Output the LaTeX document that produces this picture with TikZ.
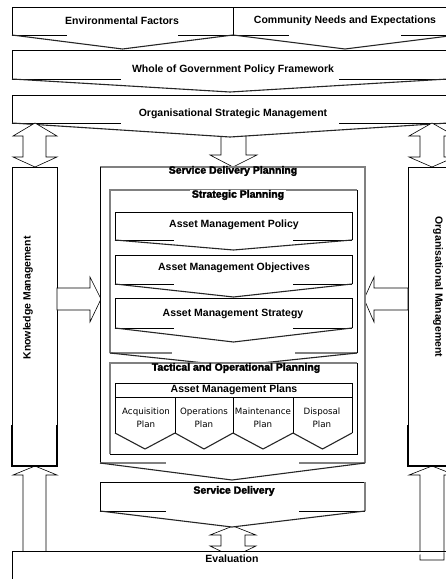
\documentclass[tikz,border=0pt]{standalone}
\usepackage{fontspec}
\setmainfont{Liberation Sans}
\newfontfamily\subfont{DejaVu Sans}
\newfontfamily\heavyfont{Liberation Sans}[FakeBold=2.5]
\newcommand{\chevbx}[6]{%
  \fill[white] (#1,#2) -- (#3,#2) -- (#3,#4) -- ({(#1+#3)/2},#5) -- (#1,#4) -- cycle;
  \draw[edge] (#1,#4) -- (#1,#2) -- (#3,#2) -- (#3,#4);
  \draw[edge] (#1,#4) -- ++({(#3-#1)*#6},0);
  \draw[edge] (#3,#4) -- ++({-(#3-#1)*#6},0);
  \draw[chev] (#1,#4) -- ({(#1+#3)/2},#5) -- (#3,#4);
}
\begin{document}
\begin{tikzpicture}[x=1pt,y=-1pt,
  lbl/.style={font=\fontsize{10.5}{12}\selectfont\bfseries, inner sep=0pt},
  hvy/.style={font=\heavyfont\fontsize{10.5}{12}\selectfont\bfseries, inner sep=0pt},
  sub/.style={font=\subfont\fontsize{8.7}{13}\selectfont, align=center, inner sep=0pt},
  chev/.style={line width=1.1pt, black!85, line join=miter},
  edge/.style={line width=0.6pt, black},
  gedge/.style={line width=1.5pt, black!50},
  barrow/.style={draw=black, line width=0.6pt, fill=white, line join=miter}]
\useasboundingbox (0,0) rectangle (446,579);

% centre down arrow (behind the OSM chevron)
\draw[barrow] (221,125) -- (246,125) -- (246,155) -- (257,155) -- (233,167) -- (210,155) -- (221,155) -- cycle;

% top boxes
\chevbx{12}{7}{233}{35}{49}{0.25}
\chevbx{233}{7}{457}{35}{49}{0.25}
\chevbx{12}{50}{448}{79}{92}{0.25}
\chevbx{12}{95}{448}{123}{137}{0.25}

\node[lbl] (env) at (122,21) {Environmental Factors};
\node[lbl] (comm) at (345,21) {Community Needs and Expectations};
\node[lbl] (wog) at (233,70) {Whole of Government Policy Framework};
\node[lbl] (osm) at (233,114) {Organisational Strategic Management};

% side double arrows
\draw[barrow] (35,123) -- (57,136) -- (46,136) -- (46,157) -- (57,157) -- (35,167) -- (13,157) -- (23,157) -- (23,136) -- (13,136) -- cycle;
\draw[barrow] (432,123) -- (455,136) -- (444,136) -- (444,157) -- (455,157) -- (432,167) -- (409,157) -- (420,157) -- (420,136) -- (409,136) -- cycle;

% up arrows to evaluation
\draw[barrow] (35,466) -- (57,475) -- (46,475) -- (46,560) -- (23,560) -- (23,475) -- (13,475) -- cycle;
\draw[barrow] (432,466) -- (455,475) -- (444,475) -- (444,560) -- (420,560) -- (420,475) -- (409,475) -- cycle;
\draw[barrow] (233,526) -- (256,535) -- (245,535) -- (245,546) -- (256,546) -- (233,557) -- (210,546) -- (221,546) -- (221,535) -- (210,535) -- cycle;

% columns
\draw[edge, fill=white] (12,466) -- (12,167) -- (57,167) -- (57,466);
\draw[line width=1.3pt] (12,425) -- (12,466) -- (57,466) -- (57,425);
\draw[edge, fill=white] (470,466) -- (408,466) -- (408,167) -- (470,167);
\draw[line width=1.3pt] (408,425) -- (408,466) -- (470,466);
\node[lbl, rotate=90] (km) at (28,298) {Knowledge Management};
\node[lbl, rotate=-90] (om) at (438,287) {Organisational Management};

% side block arrows into the centre
\draw[barrow] (57,288) -- (90,288) -- (90,277) -- (101,299) -- (90,322) -- (90,310) -- (57,310) -- cycle;
\draw[barrow] (408,288) -- (374,288) -- (374,277) -- (364,299) -- (374,322) -- (374,310) -- (408,310) -- cycle;

% outer Service Delivery Planning box
\fill[white] (100,167) -- (365,167) -- (365,463) -- (232,480) -- (100,463) -- cycle;
\draw[gedge] (100,167) -- (365,167) -- (365,463);
\draw[line width=1pt] (100,167) -- (100,463);
\draw[gedge] (100,463) -- ++(66,0);
\draw[gedge] (365,463) -- ++(-66,0);
\draw[chev] (100,463) -- (232,480) -- (365,463);
\node[hvy] (sdp) at (233,171) {Service Delivery Planning};

% Strategic Planning box
\fill[white] (110,190) -- (357,190) -- (357,353) -- (233,366) -- (110,353) -- cycle;
\draw[gedge] (110,353) -- (110,190) -- (357,190);
\draw[line width=1pt] (357,190) -- (357,353);
\draw[gedge] (110,353) -- ++(62,0);
\draw[gedge] (357,353) -- ++(-62,0);
\draw[chev] (110,353) -- (233,366) -- (357,353);
\node[hvy, fill=white, inner xsep=2pt] (sp) at (238,195) {Strategic Planning};

\chevbx{115}{212}{352}{240}{250}{0.25}
\chevbx{115}{255}{352}{284}{297}{0.25}
\chevbx{115}{298}{352}{328}{342}{0.25}
\node[lbl] (amp1) at (234,225) {Asset Management Policy};
\node[lbl] (amo) at (234,268) {Asset Management Objectives};
\node[lbl] (ams) at (233,314) {Asset Management Strategy};

% Tactical and Operational Planning box
\fill[white] (110,363) rectangle (357,454);
\draw[gedge] (110,454) -- (110,363) -- (357,363);
\draw[line width=1pt] (357,363) -- (357,454) -- (110,454);
\node[hvy] (top) at (236,368) {Tactical and Operational Planning};

\draw[edge, fill=white] (115,383) rectangle (352,397);
\node[lbl] (amplans) at (234,390) {Asset Management Plans};
\chevbx{115}{397}{175}{433}{449}{0}
\chevbx{175}{397}{233}{433}{449}{0}
\chevbx{233}{397}{293}{433}{449}{0}
\chevbx{293}{397}{352}{433}{449}{0}
\node[sub] (acq) at (146,418) {Acquisition\\Plan};
\node[sub] (ops) at (204,418) {Operations\\Plan};
\node[sub] (mnt) at (263,418) {Maintenance\\Plan};
\node[sub] (dsp) at (322,418) {Disposal\\Plan};

% Service Delivery
\fill[white] (100,482) -- (365,482) -- (365,511) -- (232,527) -- (100,511) -- cycle;
\draw[line width=1pt] (100,511) -- (100,482) -- (365,482);
\draw[gedge] (365,482) -- (365,511);
\draw[edge] (100,511) -- ++(66,0);
\draw[edge] (365,511) -- ++(-66,0);
\draw[chev] (100,511) -- (232,527) -- (365,511);
\node[hvy] (sd) at (234,491) {Service Delivery};

% Evaluation
\draw[edge, fill=white] (12,590) -- (12,551) -- (460,551);
\node[lbl] (ev) at (232,559) {Evaluation};
\end{tikzpicture}
\end{document}
